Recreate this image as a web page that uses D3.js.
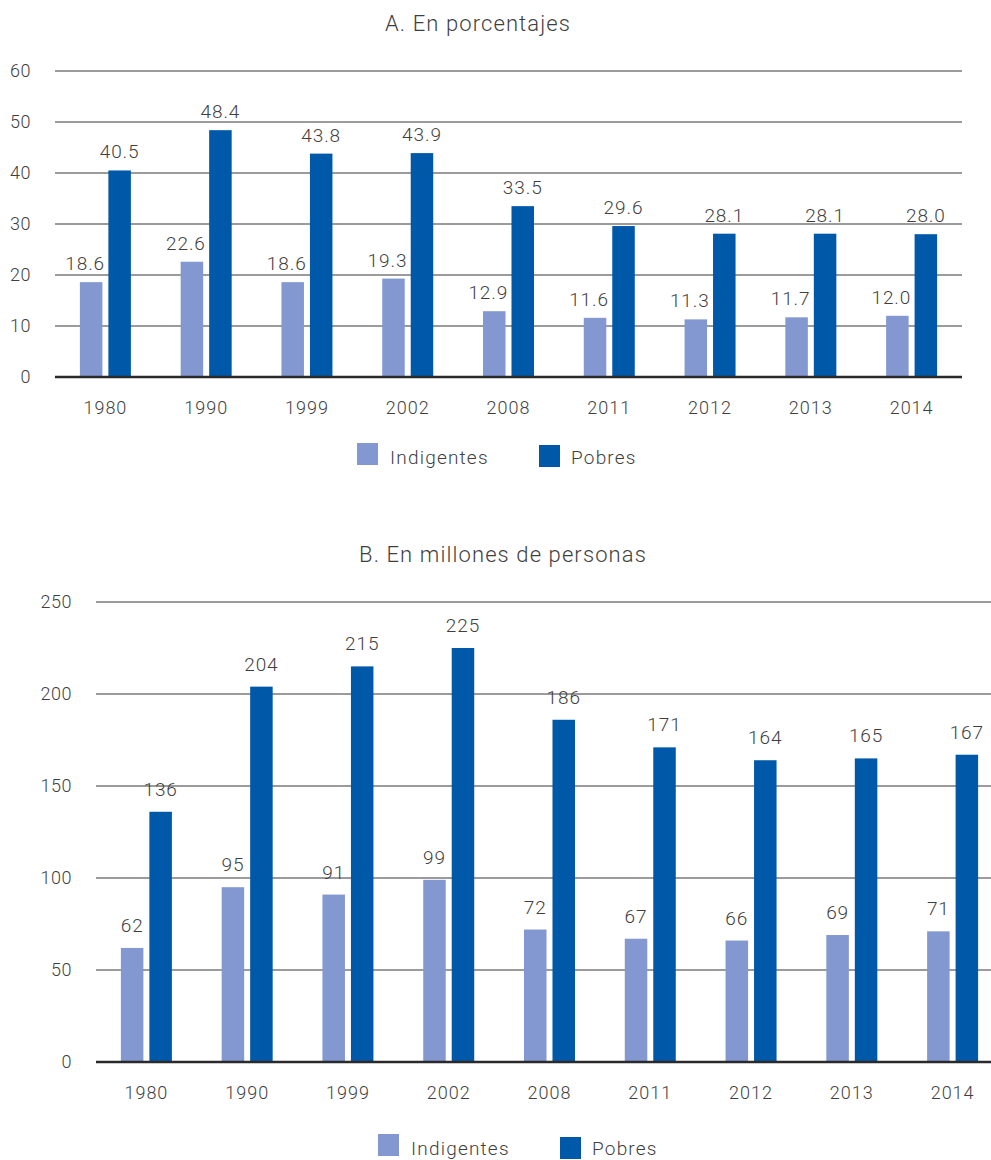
<!DOCTYPE html>
<html>
<head>
<meta charset="utf-8">
<script src="https://cdn.jsdelivr.net/npm/d3@7"></script>
<style>
  html, body { margin: 0; padding: 0; background: #fff; }
  svg { display: block; }
  text { font-family: "Roboto", "Noto Sans", sans-serif; font-weight: 300; fill: #3f3f3f; }
</style>
</head>
<body>
<svg id="chart" width="991" height="1160"></svg>
<script>
// Years shared by both panels
const years = ["1980", "1990", "1999", "2002", "2008", "2011", "2012", "2013", "2014"];
const seriesKeys = ["Indigentes", "Pobres"];
const seriesColors = ["#8398d0", "#0058a9"];

// Panel A: percentages
const pctIndigentes = [18.6, 22.6, 18.6, 19.3, 12.9, 11.6, 11.3, 11.7, 12.0];
const pctPobres     = [40.5, 48.4, 43.8, 43.9, 33.5, 29.6, 28.1, 28.1, 28.0];
const pctTicks = [0, 10, 20, 30, 40, 50, 60];

// Panel B: millions of people
const milIndigentes = [62, 95, 91, 99, 72, 67, 66, 69, 71];
const milPobres     = [136, 204, 215, 225, 186, 171, 164, 165, 167];
const milTicks = [0, 50, 100, 150, 200, 250];

const titleA = "A. En porcentajes";
const titleB = "B. En millones de personas";

const svg = d3.select("#chart");

function drawPanel(cfg) {
  const g = svg.append("g");

  const x = d3.scaleBand()
    .domain(years)
    .range([cfg.x0, cfg.x1])
    .paddingInner(0.494)
    .paddingOuter(0.247);

  const xs = d3.scaleBand()
    .domain(seriesKeys)
    .range([0, x.bandwidth()])
    .paddingInner(0.21);

  const y = d3.scaleLinear()
    .domain([0, d3.max(cfg.ticks)])
    .range([cfg.yBase, cfg.yTop]);

  // Title
  g.append("text")
    .attr("x", cfg.titleX)
    .attr("y", cfg.titleY)
    .attr("text-anchor", "middle")
    .style("font-size", "22px")
    .style("letter-spacing", "1.1px")
    .text(cfg.title);

  // Gridlines
  g.append("g").selectAll("line")
    .data(cfg.ticks.filter(t => t > 0))
    .join("line")
    .attr("x1", cfg.x0)
    .attr("x2", cfg.gridEnd)
    .attr("y1", d => y(d))
    .attr("y2", d => y(d))
    .attr("stroke", "#7a7a7a")
    .attr("stroke-width", 1.6);

  // Y axis labels
  const yAxis = d3.axisLeft(y).tickValues(cfg.ticks).tickSize(0).tickPadding(0);
  const ya = g.append("g")
    .attr("transform", `translate(${cfg.yLabelX},0)`)
    .call(yAxis);
  ya.select(".domain").remove();
  ya.selectAll("text")
    .style("font-size", "18px")
    .style("letter-spacing", "0.5px")
    .style("font-family", "Roboto, sans-serif")
    .style("font-weight", 300)
    .attr("fill", "#3f3f3f");

  // Bars
  const rows = years.map((yr, i) => ({ year: yr, values: [cfg.ind[i], cfg.pob[i]] }));
  const groups = g.append("g").selectAll("g")
    .data(rows)
    .join("g")
    .attr("transform", d => `translate(${x(d.year)},0)`);

  groups.selectAll("rect")
    .data(d => d.values.map((v, k) => ({ key: seriesKeys[k], value: v, k })))
    .join("rect")
    .attr("x", d => xs(d.key))
    .attr("width", xs.bandwidth())
    .attr("y", d => y(d.value))
    .attr("height", d => y(0) - y(d.value))
    .attr("fill", d => seriesColors[d.k]);

  // Value labels
  groups.selectAll("text")
    .data(d => d.values.map((v, k) => ({ key: seriesKeys[k], value: v, k })))
    .join("text")
    .attr("x", d => xs(d.key) + xs.bandwidth() / 2 + (d.k === 0 ? cfg.indLabelDx : 0))
    .attr("y", d => y(d.value) - cfg.labelGap)
    .attr("text-anchor", "middle")
    .style("font-size", "19px")
    .style("letter-spacing", "0.9px")
    .text(d => cfg.fmt(d.value));

  // Baseline
  g.append("line")
    .attr("x1", cfg.x0)
    .attr("x2", cfg.gridEnd)
    .attr("y1", y(0))
    .attr("y2", y(0))
    .attr("stroke", "#2a2a2a")
    .attr("stroke-width", 2.6);

  // X axis labels
  const xAxis = d3.axisBottom(x).tickSize(0).tickPadding(0);
  const xa = g.append("g")
    .attr("transform", `translate(0,${cfg.xLabelY})`)
    .call(xAxis);
  xa.select(".domain").remove();
  xa.selectAll("text")
    .attr("dy", 0)
    .style("font-size", "18px")
    .style("letter-spacing", "1px")
    .style("font-family", "Roboto, sans-serif")
    .style("font-weight", 300)
    .attr("fill", "#3f3f3f");

  // Legend
  const leg = g.append("g");
  cfg.legend.forEach((L, k) => {
    leg.append("rect")
      .attr("x", L.sx).attr("y", L.sy)
      .attr("width", 21).attr("height", 22)
      .attr("fill", seriesColors[k]);
    leg.append("text")
      .attr("x", L.tx).attr("y", L.ty)
      .style("font-size", "19px")
      .style("letter-spacing", "1.2px")
      .text(seriesKeys[k]);
  });
}

drawPanel({
  title: titleA, titleX: 478, titleY: 31,
  x0: 55, x1: 962, gridEnd: 962,
  yBase: 377, yTop: 71, ticks: pctTicks, yLabelX: 31,
  ind: pctIndigentes, pob: pctPobres,
  fmt: d3.format(".1f"), labelGap: 12, indLabelDx: -6,
  xLabelY: 414,
  legend: [
    { sx: 357, sy: 443, tx: 390, ty: 464 },
    { sx: 539, sy: 445, tx: 571, ty: 464 }
  ]
});

drawPanel({
  title: titleB, titleX: 503, titleY: 562,
  x0: 96, x1: 1003, gridEnd: 1003,
  yBase: 1062, yTop: 602, ticks: milTicks, yLabelX: 72,
  ind: milIndigentes, pob: milPobres,
  fmt: d3.format("d"), labelGap: 16, indLabelDx: 0,
  xLabelY: 1099,
  legend: [
    { sx: 378, sy: 1134, tx: 411, ty: 1155 },
    { sx: 560, sy: 1137, tx: 592, ty: 1155 }
  ]
});
</script>
</body>
</html>
